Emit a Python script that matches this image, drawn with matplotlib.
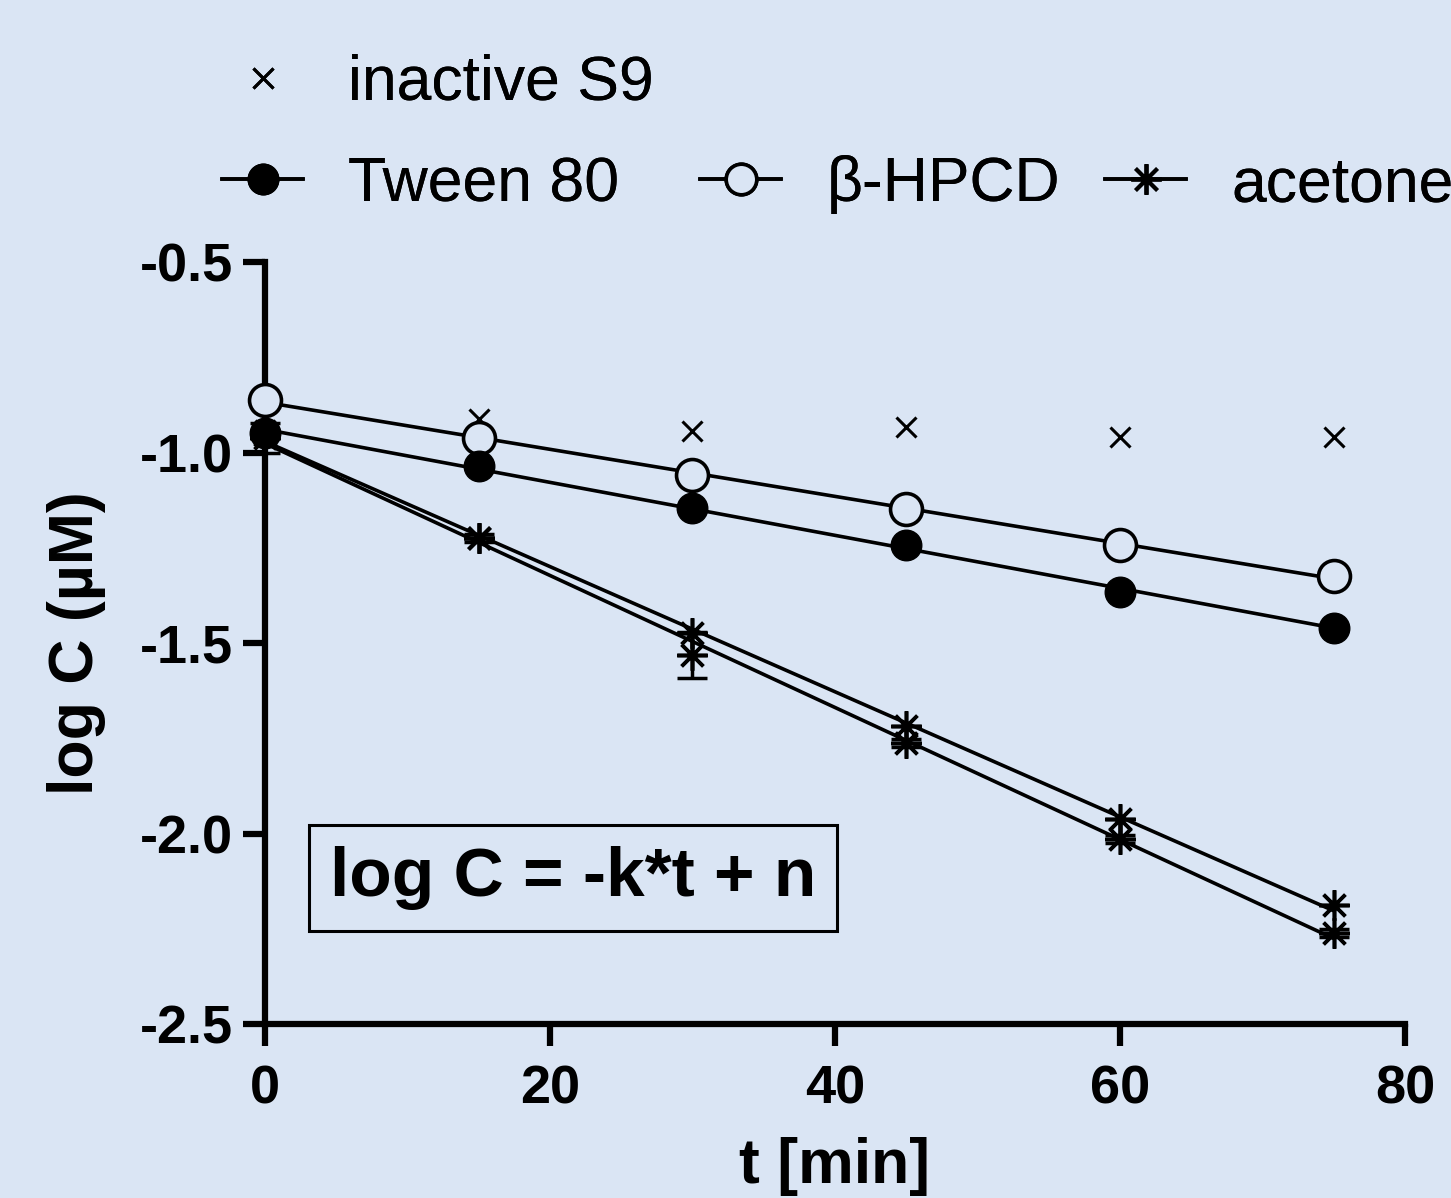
import numpy as np
import matplotlib.pyplot as plt
from matplotlib.lines import Line2D

plt.rcParams['font.family'] = ['Liberation Sans', 'DejaVu Sans']

t = np.array([0, 15, 30, 45, 60, 75])
tween = np.array([-0.949, -1.035, -1.146, -1.243, -1.366, -1.461])
hpcd = np.array([-0.862, -0.962, -1.059, -1.148, -1.243, -1.324])
inactive = np.array([-0.94, -0.912, -0.944, -0.933, -0.959, -0.959])
acetone_a = np.array([-0.955, -1.224, -1.474, -1.718, -1.962, -2.188])
acetone_b = np.array([-0.962, -1.224, -1.532, -1.762, -2.014, -2.261])
acetone_b_err = np.array([0.04, 0.01, 0.06, 0.01, 0.01, 0.01])

bg = '#dae5f4'
star = (8, 2, 0)

fig = plt.figure(figsize=(14.51, 11.98), dpi=100, facecolor=bg)
ax = fig.add_axes([0.1826, 0.1452, 0.7857, 0.6361])
ax.set_facecolor(bg)

# regression lines
tt = np.array([0, 75])
for y in (tween, hpcd, acetone_a, acetone_b):
    p = np.polyfit(t, y, 1)
    ax.plot(tt, np.polyval(p, tt), color='black', lw=2.6, zorder=2, clip_on=False)

ax.plot(t, inactive, 'x', color='black', ms=15, mew=2.2, zorder=3, clip_on=False)
ax.plot(t, hpcd, 'o', mfc=bg, mec='black', ms=23, mew=2.6, zorder=4, clip_on=False)
ax.plot(t, tween, 'o', color='black', ms=22, zorder=4, clip_on=False)
ax.errorbar(t, acetone_b, yerr=acetone_b_err, fmt='none', ecolor='black',
            elinewidth=2.5, capsize=11, capthick=2.5, zorder=3, clip_on=False)
ax.plot(t, acetone_a, linestyle='none', marker=star, color='black', ms=22, mew=2.6, zorder=4, clip_on=False)
ax.plot(t, acetone_b, linestyle='none', marker=star, color='black', ms=22, mew=2.6, zorder=4, clip_on=False)

ax.set_xlim(0, 80)
ax.set_ylim(-2.5, -0.5)
ax.set_xticks([0, 20, 40, 60, 80])
ax.set_yticks([-0.5, -1.0, -1.5, -2.0, -2.5])
ax.set_yticklabels(['-0.5', '-1.0', '-1.5', '-2.0', '-2.5'])
for s in ('top', 'right'):
    ax.spines[s].set_visible(False)
for s in ('left', 'bottom'):
    ax.spines[s].set_linewidth(4.5)
ax.tick_params(width=4.5, length=16, labelsize=39, pad=7)
ax.tick_params(axis='x', pad=13)
for lb in ax.get_xticklabels() + ax.get_yticklabels():
    lb.set_fontweight('bold')

ax.set_xlabel('t [min]', fontsize=45, fontweight='bold', labelpad=16)
ax.set_ylabel('log C (µM)', fontsize=45, fontweight='bold', labelpad=24)

ax.text(0.27, 0.1916, 'log C = -k*t + n', transform=ax.transAxes, fontsize=50,
        fontweight='bold', ha='center', va='center',
        bbox=dict(boxstyle='square,pad=0.3', fc=bg, ec='black', lw=2.2))

# legends, one per entry so each sits where the reference puts it
def add_entry(handle, label, x, y):
    leg = fig.legend([handle], [label], loc='center left', bbox_to_anchor=(x, y),
                     frameon=False, fontsize=45, handlelength=1.3, handletextpad=0.72,
                     borderaxespad=0, borderpad=0)
    fig.add_artist(leg)

h1 = Line2D([], [], linestyle='none', marker='x', color='black', ms=15, mew=2.2)
h2 = Line2D([], [], color='black', lw=2.6, marker='o', ms=22)
h3 = Line2D([], [], color='black', lw=2.6, marker='o', ms=22, mfc=bg, mew=2.6)
h4 = Line2D([], [], color='black', lw=2.6, marker=star, ms=22, mew=2.6)
add_entry(h1, 'inactive S9', 0.153, 0.9307)
add_entry(h2, 'Tween 80', 0.153, 0.8458)
add_entry(h3, 'β-HPCD', 0.4824, 0.8458)
add_entry(h4, 'acetone', 0.7615, 0.8458)

fig.savefig('out.png', dpi=100, facecolor=bg)
